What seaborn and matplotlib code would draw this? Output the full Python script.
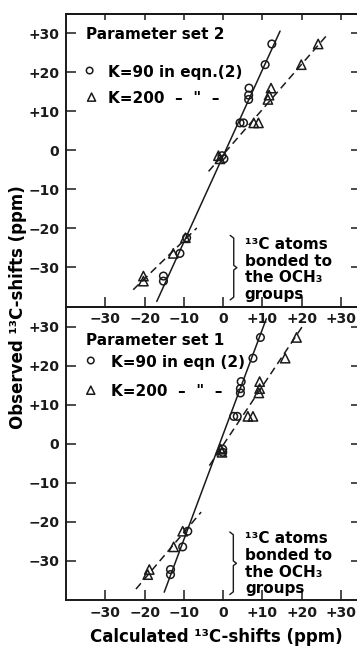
import matplotlib
matplotlib.use("Agg")
import matplotlib.pyplot as plt
import seaborn as sns

# ---------------- data ----------------
# observed 13C shifts (ppm) - common to both panels
observed = [27.2, 21.9, 15.9, 14.1, 13.0, 7.0, 7.0, -1.4, -2.2, -22.4, -26.4, -32.2, -33.5]

# Parameter set 2 (upper panel): calculated shifts
set2_k90 = [12.4, 10.7, 6.6, 6.5, 6.5, 4.3, 5.2, -0.3, 0.2, -9.3, -11.0, -15.2, -15.2]
set2_k200 = [24.2, 19.9, 12.2, 11.7, 11.4, 7.8, 9.0, -1.2, -0.8, -9.6, -12.7, -20.3, -20.3]

# Parameter set 1 (lower panel): calculated shifts
set1_k90 = [9.5, 7.6, 4.6, 4.4, 4.4, 2.7, 3.6, -0.1, -0.1, -9.0, -10.3, -13.4, -13.4]
set1_k200 = [18.7, 15.8, 9.3, 9.3, 9.1, 6.3, 7.6, -0.6, -0.3, -10.3, -12.6, -18.8, -19.2]

# fitted lines (end points)
set2_solid_x, set2_solid_y = [-16.9, 14.5], [-38.7, 30.5]
set2_dash_up_x, set2_dash_up_y = [-3.7, 26.9], [-5.4, 30.0]
set2_dash_lo_x, set2_dash_lo_y = [-22.9, -6.7], [-35.7, -19.9]

set1_solid_x, set1_solid_y = [-15.0, 11.0], [-38.0, 32.0]
set1_dash_up_x, set1_dash_up_y = [-3.5, 20.5], [-5.6, 30.5]
set1_dash_lo_x, set1_dash_lo_y = [-22.2, -5.6], [-37.2, -17.5]

ticks = [-30, -20, -10, 0, 10, 20, 30]
tick_labels = ["\u221230", "\u221220", "\u221210", "0", "+10", "+20", "+30"]

# ---------------- style ----------------
sns.set_theme(style="ticks")
plt.rcParams["font.family"] = ["DejaVu Sans"]
plt.rcParams["font.weight"] = "bold"
plt.rcParams["axes.linewidth"] = 1.4
for key in ["text.color", "axes.labelcolor", "xtick.color", "ytick.color",
            "xtick.labelcolor", "ytick.labelcolor", "axes.edgecolor"]:
    plt.rcParams[key] = "black"

fig = plt.figure(figsize=(3.57, 6.46), dpi=100)
ax_bot = fig.add_axes([0.185, 0.0712, 0.814, 0.4536])
ax_top = fig.add_axes([0.185, 0.5255, 0.814, 0.4536])
ax_top.set_zorder(3)
ax_top.patch.set_alpha(0)
ax_bot.patch.set_alpha(0)

LW = 1.1
DASH = (0, (5, 3))


def draw_panel(ax, k90, k200, sx, sy, dux, duy, dlx, dly):
    sns.lineplot(x=sx, y=sy, ax=ax, color="k", linewidth=LW, sort=False, estimator=None)
    sns.lineplot(x=dux, y=duy, ax=ax, color="k", linewidth=LW, linestyle=DASH, sort=False, estimator=None)
    sns.lineplot(x=dlx, y=dly, ax=ax, color="k", linewidth=LW, linestyle=DASH, sort=False, estimator=None)
    sns.scatterplot(x=k90, y=observed, ax=ax, marker="o", s=30, facecolor="none",
                    edgecolor="k", linewidth=1.1, zorder=3)
    sns.scatterplot(x=k200, y=observed, ax=ax, marker="^", s=45, facecolor="none",
                    edgecolor="k", linewidth=1.1, zorder=3)
    ax.set_xlim(-40, 34)
    ax.set_ylim(-40, 35)
    ax.set_xlabel("")
    ax.set_ylabel("")
    ax.set_xticks(ticks, tick_labels)
    ax.set_yticks(ticks, tick_labels)
    ax.spines["right"].set_visible(False)
    ax.tick_params(axis="y", direction="in", left=True, right=False, length=7, width=1.1,
                   labelsize=10, pad=5, color="k", labelcolor="k")
    ax.tick_params(axis="x", direction="in", bottom=True, top=False, length=7.5, width=1.1,
                   labelsize=10, pad=4, color="k", labelcolor="k")
    for lab in ax.get_xticklabels() + ax.get_yticklabels():
        lab.set_fontweight("bold")
    for sp in ax.spines.values():
        sp.set_color("k")
    # short inward ticks on the right edge
    sec = ax.secondary_yaxis("right")
    sec.set_yticks(ticks)
    sec.tick_params(direction="in", length=4.5, width=1.1, labelright=False, color="k")
    sec.spines["right"].set_visible(False)
    return sec


def bracket(ax, x, ytop, ybot):
    ymid = (ytop + ybot) / 2
    bx = [x - 0.9, x, x, x + 0.8, x, x, x - 0.9]
    by = [ytop + 0.3, ytop - 0.4, ymid + 0.6, ymid, ymid - 0.6, ybot + 0.4, ybot - 0.3]
    ax.plot(bx, by, color="k", linewidth=1.0)


def legend_glyphs(ax, cx, cy, tx, ty):
    ax.scatter([cx], [cy], marker="o", s=22, facecolor="none", edgecolor="k", linewidth=1.1)
    ax.scatter([tx], [ty], marker="^", s=34, facecolor="none", edgecolor="k", linewidth=1.1)


draw_panel(ax_top, set2_k90, set2_k200, set2_solid_x, set2_solid_y,
           set2_dash_up_x, set2_dash_up_y, set2_dash_lo_x, set2_dash_lo_y)
draw_panel(ax_bot, set1_k90, set1_k200, set1_solid_x, set1_solid_y,
           set1_dash_up_x, set1_dash_up_y, set1_dash_lo_x, set1_dash_lo_y)

# short inward ticks on the top edge of the upper panel
sec_top = ax_top.secondary_xaxis("top")
sec_top.set_xticks(ticks)
sec_top.tick_params(direction="in", length=4.5, width=1.1, labeltop=False, color="k")

FS = 11
# upper panel texts
ax_top.text(-34.8, 28.4, "Parameter set 2", ha="left", va="baseline", fontsize=FS, fontweight="bold")
ax_top.text(-29.4, 18.7, "K=90 in eqn.(2)", ha="left", va="baseline", fontsize=FS, fontweight="bold")
ax_top.text(-29.4, 12.1, "K=200  \u2013  \"  \u2013", ha="left", va="baseline", fontsize=FS, fontweight="bold")
legend_glyphs(ax_top, -34.0, 20.4, -33.5, 13.6)
ax_top.text(5.5, -30.5, "\u00b9\u00b3C atoms\nbonded to\nthe OCH\u2083\ngroups", ha="left", va="center",
            fontsize=FS, fontweight="bold", linespacing=1.15)
bracket(ax_top, 2.7, -22.1, -38.0)

# lower panel texts
ax_bot.text(-34.9, 25.2, "Parameter set 1", ha="left", va="baseline", fontsize=FS, fontweight="bold")
ax_bot.text(-28.6, 19.7, "K=90 in eqn (2)", ha="left", va="baseline", fontsize=FS, fontweight="bold")
ax_bot.text(-28.6, 12.2, "K=200  \u2013  \"  \u2013", ha="left", va="baseline", fontsize=FS, fontweight="bold")
legend_glyphs(ax_bot, -33.7, 21.3, -33.7, 13.7)
ax_bot.text(5.6, -30.7, "\u00b9\u00b3C atoms\nbonded to\nthe OCH\u2083\ngroups", ha="left", va="center",
            fontsize=FS, fontweight="bold", linespacing=1.15)
bracket(ax_bot, 2.6, -22.9, -38.3)

# axis titles
fig.text(0.605, 0.014, "Calculated \u00b9\u00b3C-shifts (ppm)", ha="center", va="center",
         fontsize=12, fontweight="bold")
fig.text(0.05, 0.525, "Observed \u00b9\u00b3C-shifts (ppm)", ha="center", va="center",
         rotation=90, fontsize=12, fontweight="bold")

fig.savefig("out.png", dpi=100, facecolor="white")
